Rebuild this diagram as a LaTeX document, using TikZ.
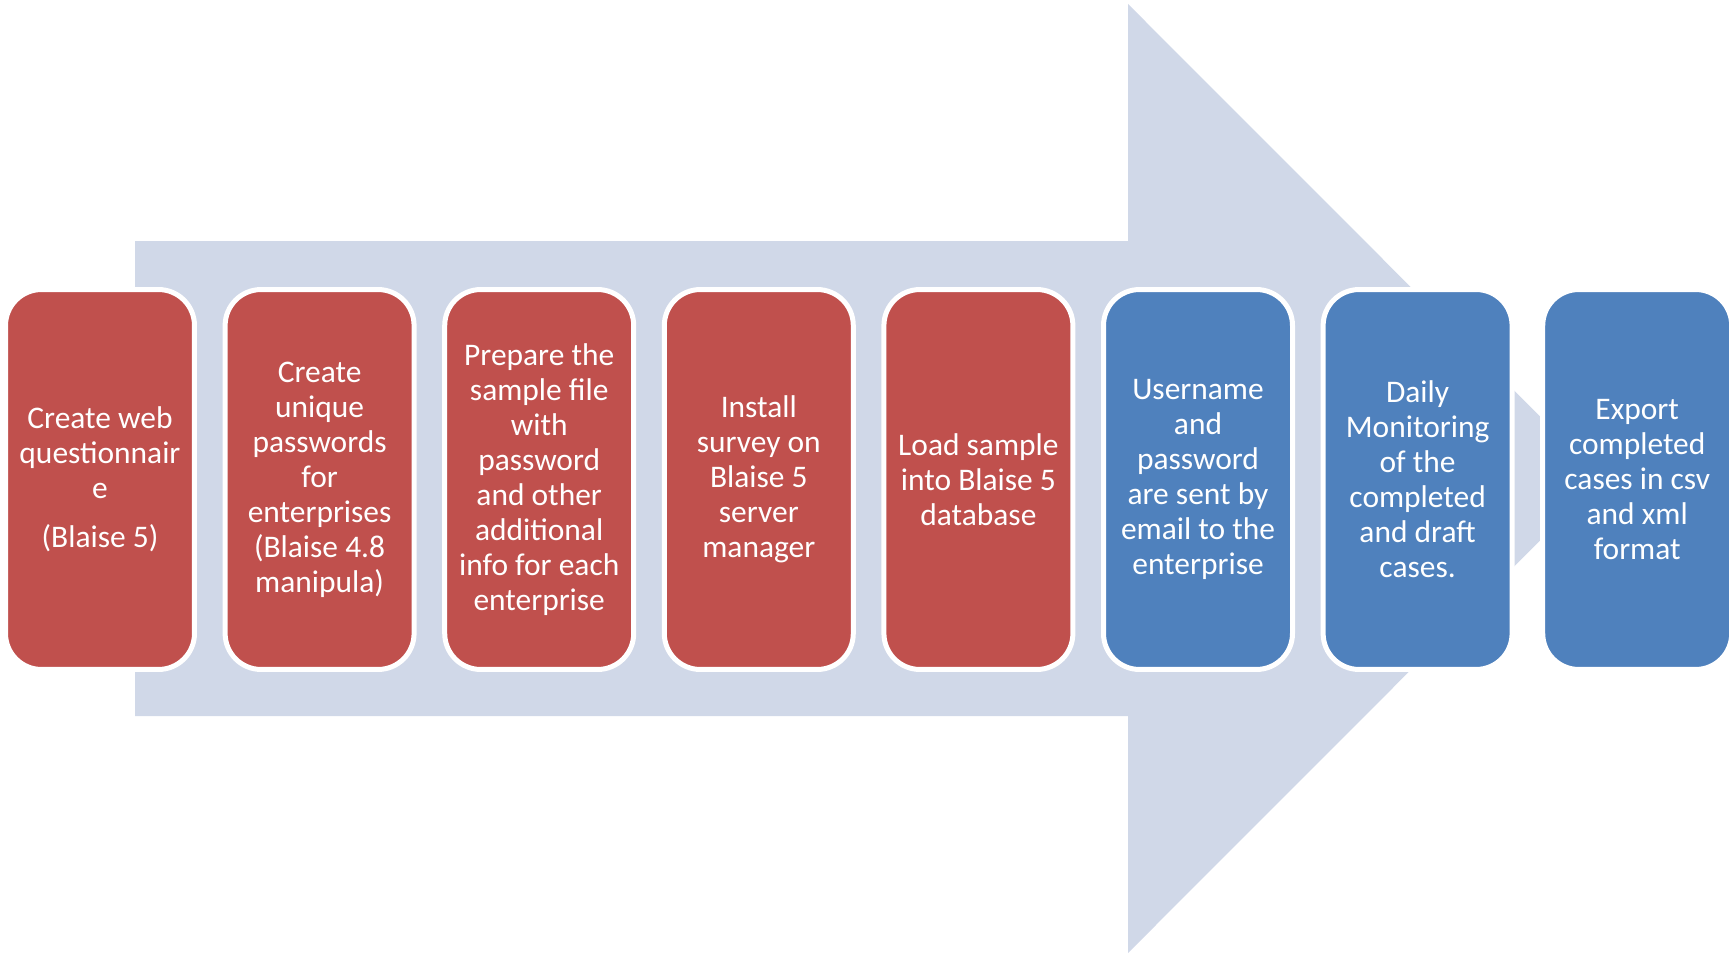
\documentclass[tikz,border=0pt]{standalone}
\usepackage{fontspec}
\setmainfont{Carlito}
\usetikzlibrary{calc}
\definecolor{arrowgray}{HTML}{D0D8E8}
\definecolor{stepred}{HTML}{C0504D}
\definecolor{stepblue}{HTML}{4F81BD}
\tikzset{
  stepbox/.style={rectangle, rounded corners=0.72cm, draw=white, line width=0.1cm,
    minimum width=3.78cm, minimum height=7.6cm, inner sep=0pt, align=center,
    text=white, font=\fontsize{17.9}{19.9}\selectfont},
  redbox/.style={stepbox, fill=stepred},
  bluebox/.style={stepbox, fill=stepblue}
}

\begin{document}
\begin{tikzpicture}[x=0.02cm, y=-0.02cm]
			%%%%% START %%%%%
			
			\useasboundingbox (0, 0) rectangle (1730, 953);
			
			% big arrow behind the steps
			\fill[arrowgray] (135, 241) -- (1128, 241) -- (1128, 4) -- (1602, 478.5)
			  -- (1128, 953) -- (1128, 716) -- (135, 716) -- cycle;
			
			\node[redbox] (web) at (100, 479.5) {Create web\\questionnair\\e\\[0.28cm](Blaise 5)};
			\node[redbox] (pwd) at (319.6, 479.5) {Create\\unique\\passwords\\for\\enterprises\\(Blaise 4.8\\manipula)};
			\node[redbox] (sample) at (539.2, 479.5) {Prepare the\\sample file\\with\\password\\and other\\additional\\info for each\\enterprise};
			\node[redbox] (install) at (758.8, 479.5) {Install\\survey on\\Blaise 5\\server\\manager};
			\node[redbox] (load) at (978.4, 479.5) {Load sample\\into Blaise 5\\database};
			
			\node[bluebox] (mail) at (1198, 479.5) {Username\\and\\password\\are sent by\\email to the\\enterprise};
			\node[bluebox] (monitor) at (1417.6, 479.5) {Daily\\Monitoring\\of the\\completed\\and draft\\cases.};
			\node[bluebox] (export) at (1637.2, 479.5) {Export\\completed\\cases in csv\\and xml\\format};
			
			%%%%% END %%%%%
\end{tikzpicture}
\end{document}
